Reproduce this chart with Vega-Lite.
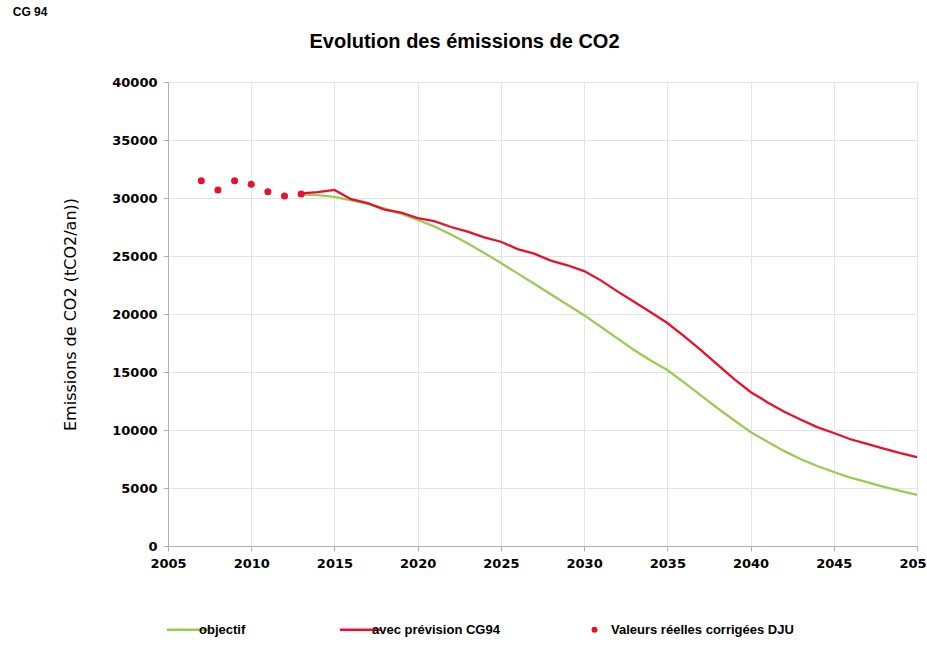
{
  "$schema": "https://vega.github.io/schema/vega-lite/v6.json",
  "background": "white",
  "padding": {"left": 12, "top": 6, "right": 0, "bottom": 0},
  "title": {"text": "CG 94", "anchor": "start", "frame": "bounds", "dx": -50, "font": "Liberation Sans", "fontSize": 12, "fontWeight": "bold", "color": "#000", "offset": 13},
  "config": {
    "font": "Liberation Sans",
    "view": {"stroke": null},
    "axis": {"gridColor": "#e4e4e4", "domainColor": "#b0b0b0", "tickColor": "#b0b0b0", "tickSize": 5, "labelFont": "DejaVu Sans", "labelFontWeight": "bold", "labelFontSize": 13, "labelColor": "#000", "titleFont": "DejaVu Sans", "titleFontWeight": "normal", "titleColor": "#000"}
  },
  "datasets": {
    "emissions": [
      {"year": 2007, "series": "Valeurs réelles corrigées DJU", "value": 31490},
      {"year": 2008, "series": "Valeurs réelles corrigées DJU", "value": 30690},
      {"year": 2009, "series": "Valeurs réelles corrigées DJU", "value": 31490},
      {"year": 2010, "series": "Valeurs réelles corrigées DJU", "value": 31180},
      {"year": 2011, "series": "Valeurs réelles corrigées DJU", "value": 30540},
      {"year": 2012, "series": "Valeurs réelles corrigées DJU", "value": 30170},
      {"year": 2013, "series": "Valeurs réelles corrigées DJU", "value": 30340},
      {"year": 2013, "series": "objectif", "value": 30300},
      {"year": 2014, "series": "objectif", "value": 30250},
      {"year": 2015, "series": "objectif", "value": 30100},
      {"year": 2016, "series": "objectif", "value": 29800},
      {"year": 2017, "series": "objectif", "value": 29500},
      {"year": 2018, "series": "objectif", "value": 29100},
      {"year": 2019, "series": "objectif", "value": 28650},
      {"year": 2020, "series": "objectif", "value": 28100},
      {"year": 2021, "series": "objectif", "value": 27550},
      {"year": 2022, "series": "objectif", "value": 26850},
      {"year": 2023, "series": "objectif", "value": 26100},
      {"year": 2024, "series": "objectif", "value": 25250},
      {"year": 2025, "series": "objectif", "value": 24400},
      {"year": 2026, "series": "objectif", "value": 23500},
      {"year": 2027, "series": "objectif", "value": 22600},
      {"year": 2028, "series": "objectif", "value": 21700},
      {"year": 2029, "series": "objectif", "value": 20800},
      {"year": 2030, "series": "objectif", "value": 19900},
      {"year": 2031, "series": "objectif", "value": 18900},
      {"year": 2032, "series": "objectif", "value": 17900},
      {"year": 2033, "series": "objectif", "value": 16900},
      {"year": 2034, "series": "objectif", "value": 16000},
      {"year": 2035, "series": "objectif", "value": 15170},
      {"year": 2036, "series": "objectif", "value": 14100},
      {"year": 2037, "series": "objectif", "value": 13000},
      {"year": 2038, "series": "objectif", "value": 11900},
      {"year": 2039, "series": "objectif", "value": 10850},
      {"year": 2040, "series": "objectif", "value": 9830},
      {"year": 2041, "series": "objectif", "value": 9000},
      {"year": 2042, "series": "objectif", "value": 8200},
      {"year": 2043, "series": "objectif", "value": 7500},
      {"year": 2044, "series": "objectif", "value": 6900},
      {"year": 2045, "series": "objectif", "value": 6380},
      {"year": 2046, "series": "objectif", "value": 5900},
      {"year": 2047, "series": "objectif", "value": 5500},
      {"year": 2048, "series": "objectif", "value": 5100},
      {"year": 2049, "series": "objectif", "value": 4750},
      {"year": 2050, "series": "objectif", "value": 4400},
      {"year": 2013, "series": "avec prévision CG94", "value": 30400},
      {"year": 2014, "series": "avec prévision CG94", "value": 30500},
      {"year": 2015, "series": "avec prévision CG94", "value": 30700},
      {"year": 2016, "series": "avec prévision CG94", "value": 29900},
      {"year": 2017, "series": "avec prévision CG94", "value": 29550},
      {"year": 2018, "series": "avec prévision CG94", "value": 29000},
      {"year": 2019, "series": "avec prévision CG94", "value": 28750},
      {"year": 2020, "series": "avec prévision CG94", "value": 28270},
      {"year": 2021, "series": "avec prévision CG94", "value": 28000},
      {"year": 2022, "series": "avec prévision CG94", "value": 27500},
      {"year": 2023, "series": "avec prévision CG94", "value": 27100},
      {"year": 2024, "series": "avec prévision CG94", "value": 26600},
      {"year": 2025, "series": "avec prévision CG94", "value": 26230},
      {"year": 2026, "series": "avec prévision CG94", "value": 25600},
      {"year": 2027, "series": "avec prévision CG94", "value": 25200},
      {"year": 2028, "series": "avec prévision CG94", "value": 24600},
      {"year": 2029, "series": "avec prévision CG94", "value": 24200},
      {"year": 2030, "series": "avec prévision CG94", "value": 23700},
      {"year": 2031, "series": "avec prévision CG94", "value": 22900},
      {"year": 2032, "series": "avec prévision CG94", "value": 21950},
      {"year": 2033, "series": "avec prévision CG94", "value": 21050},
      {"year": 2034, "series": "avec prévision CG94", "value": 20150},
      {"year": 2035, "series": "avec prévision CG94", "value": 19220},
      {"year": 2036, "series": "avec prévision CG94", "value": 18100},
      {"year": 2037, "series": "avec prévision CG94", "value": 16900},
      {"year": 2038, "series": "avec prévision CG94", "value": 15650},
      {"year": 2039, "series": "avec prévision CG94", "value": 14400},
      {"year": 2040, "series": "avec prévision CG94", "value": 13280},
      {"year": 2041, "series": "avec prévision CG94", "value": 12400},
      {"year": 2042, "series": "avec prévision CG94", "value": 11600},
      {"year": 2043, "series": "avec prévision CG94", "value": 10900},
      {"year": 2044, "series": "avec prévision CG94", "value": 10250},
      {"year": 2045, "series": "avec prévision CG94", "value": 9740},
      {"year": 2046, "series": "avec prévision CG94", "value": 9200},
      {"year": 2047, "series": "avec prévision CG94", "value": 8800},
      {"year": 2048, "series": "avec prévision CG94", "value": 8400},
      {"year": 2049, "series": "avec prévision CG94", "value": 8000},
      {"year": 2050, "series": "avec prévision CG94", "value": 7670}
    ]
  },
  "vconcat": [
    {
      "width": 749,
      "height": 464,
      "title": {"text": "Evolution des émissions de CO2", "font": "Liberation Sans", "fontSize": 20, "fontWeight": "bold", "color": "#000", "anchor": "middle", "frame": "group", "dx": -78, "offset": 24},
      "data": {"name": "emissions"},
      "encoding": {
        "x": {"field": "year", "type": "quantitative", "scale": {"domain": [2005, 2050], "nice": false, "zero": false},
              "axis": {"title": null, "values": [2005, 2010, 2015, 2020, 2025, 2030, 2035, 2040, 2045, 2050], "format": "d", "labelFlush": false, "labelPadding": 6}},
        "y": {"field": "value", "type": "quantitative", "scale": {"domain": [0, 40000], "nice": false},
              "axis": {"title": "Emissions de CO2 (tCO2/an))", "titleFontSize": 16, "titlePadding": 33, "values": [0, 5000, 10000, 15000, 20000, 25000, 30000, 35000, 40000], "format": "d", "labelPadding": 6}},
        "color": {"field": "series", "type": "nominal",
                  "scale": {"domain": ["objectif", "avec prévision CG94", "Valeurs réelles corrigées DJU"], "range": ["#9BCB55", "#E8112D", "#E8112D"]}}
      },
      "layer": [
        {
          "transform": [{"filter": "datum.series !== 'Valeurs réelles corrigées DJU'"}],
          "mark": {"type": "line", "strokeWidth": 2.3},
          "encoding": {
            "detail": {"field": "series"},
            "color": {"field": "series", "type": "nominal",
                      "scale": {"domain": ["objectif", "avec prévision CG94", "Valeurs réelles corrigées DJU"], "range": ["#9BCB55", "#E8112D", "#E8112D"]},
                      "legend": {"orient": "none", "legendX": 13, "legendY": 541, "direction": "horizontal", "title": null,
                                 "symbolType": "stroke", "symbolSize": 1700, "symbolStrokeWidth": 2.5,
                                 "labelFont": "Liberation Sans", "labelFontSize": 13, "labelFontWeight": "bold", "labelColor": "#000",
                                 "labelOffset": 5, "labelLimit": 400, "columnPadding": 88, "padding": 0,
                                 "encode": {
                                   "symbols": {"update": {
                                     "shape": {"signal": "datum.value === 'Valeurs réelles corrigées DJU' ? 'circle' : 'stroke'"},
                                     "size": {"signal": "datum.value === 'Valeurs réelles corrigées DJU' ? 36 : 1700"},
                                     "fill": {"signal": "datum.value === 'Valeurs réelles corrigées DJU' ? '#E8112D' : 'transparent'"},
                                     "stroke": {"signal": "scale('color', datum.value)"},
                                     "strokeWidth": {"signal": "datum.value === 'Valeurs réelles corrigées DJU' ? 0 : 2.5"},
                                     "opacity": {"value": 1}
                                   }},
                                   "labels": {"update": {
                                     "dx": {"signal": "datum.value === 'Valeurs réelles corrigées DJU' ? 5 : 0"}
                                   }}
                                 }}}
          }
        },
        {
          "transform": [{"filter": "datum.series === 'Valeurs réelles corrigées DJU'"}],
          "mark": {"type": "point", "filled": true, "size": 50, "opacity": 1}
        }
      ]
    }
  ]
}
